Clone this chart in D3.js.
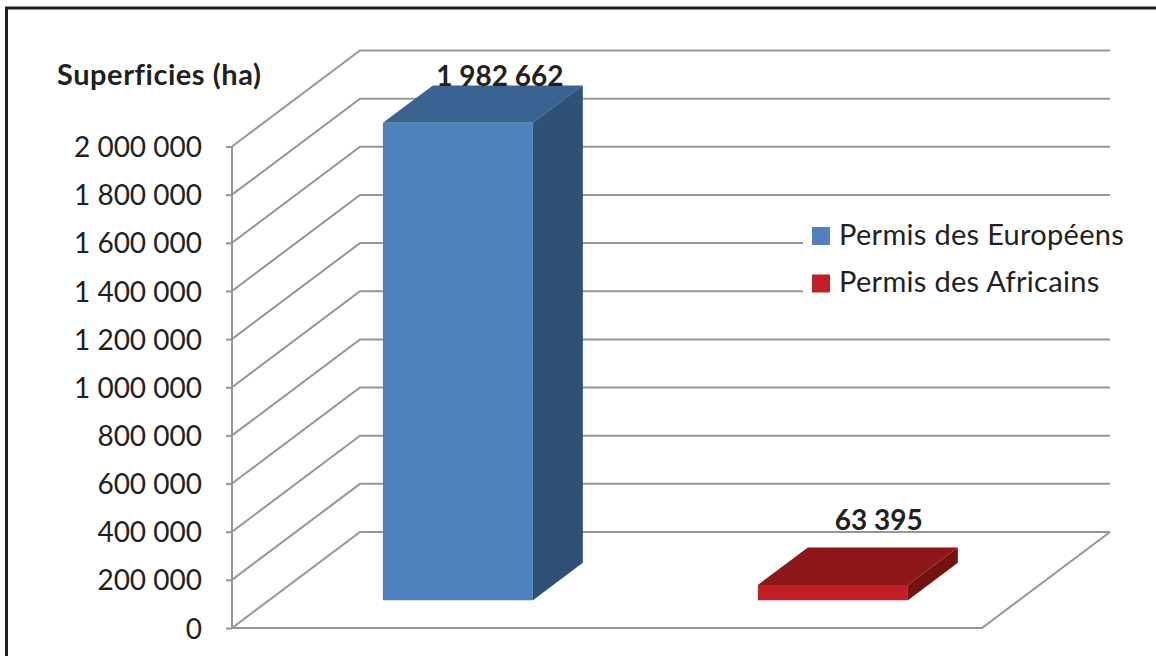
<!DOCTYPE html>
<html>
<head>
<meta charset="utf-8">
<script src="https://cdn.jsdelivr.net/npm/d3@7"></script>
<style>
html, body { margin: 0; padding: 0; background: #fff; }
svg { display: block; }
text { font-family: Lato, "Open Sans", sans-serif; fill: #231f20; }
</style>
</head>
<body>
<script>
const categories = ["Permis des Européens", "Permis des Africains"];
const values = [1982662, 63395];
const valueLabels = ["1 982 662", "63 395"];
const yTicks = [0, 200000, 400000, 600000, 800000, 1000000, 1200000, 1400000, 1600000, 1800000, 2000000];
const faceColors = ["#4f81bd", "#c01f26"];
const topColors = ["#3a6391", "#8d1719"];
const sideColors = ["#2e5175", "#741112"];

const width = 1156, height = 656;

const svg = d3.select("body").append("svg").attr("width", width).attr("height", height);

// plot area on the floor front edge, depth goes up and to the right
const x = d3.scaleBand().domain(categories).range([232, 982]);
const y = d3.scaleLinear().domain([0, 2000000]).range([628, 146.5]);
const depthX = d3.scaleLinear().domain([0, 1]).range([0, 128]);
const depthY = d3.scaleLinear().domain([0, 1]).range([0, -96]);

const barFront = 0.29, barBack = 0.68;
const barWidth = x.bandwidth() * 0.4;
const barNudge = 1.3;
const gridColor = "#969696";

function project(px, val, depth) {
    return [px + depthX(depth), y(val) + depthY(depth)];
}

function poly(g, pts, fill) {
    g.append("polygon").attr("points", pts.map(p => p.join(",")).join(" ")).attr("fill", fill);
}

// cadre
svg.append("rect").attr("x", 6.5).attr("y", 8).attr("width", 1200).attr("height", 700)
    .attr("fill", "none").attr("stroke", "#231f20").attr("stroke-width", 3);

// grille : mur de gauche et mur du fond
const grid = svg.append("g").attr("fill", "none").attr("stroke", gridColor).attr("stroke-width", 2);
yTicks.forEach(t => {
    const a = project(x.range()[0], t, 0);
    const b = project(x.range()[0], t, 1);
    const c = project(x.range()[1], t, 1);
    grid.append("polyline").attr("points", [a, b, c].map(p => p.join(",")).join(" "));
});

// sol
const floorA = project(x.range()[0], 0, 0);
const floorB = project(x.range()[1], 0, 0);
const floorC = project(x.range()[1], 0, 1);
grid.append("polyline").attr("points", [floorA, floorB, floorC].map(p => p.join(",")).join(" "));

// axe vertical
const axis = d3.axisLeft(y)
    .tickValues(yTicks)
    .tickSize(6)
    .tickPadding(24)
    .tickFormat(d => d3.format(",")(d).replace(/,/g, " "));
const axisG = svg.append("g").attr("transform", "translate(232,0)").call(axis);
axisG.selectAll("line, path").attr("stroke", gridColor).attr("stroke-width", 2);
axisG.selectAll("text").attr("font-size", 28).attr("dy", "0.36em").style("font-family", "Lato, 'Open Sans', sans-serif").attr("fill", "#231f20");
axisG.select(".domain").attr("d", `M0,${y(2000000)}V${y(0)}`);

// fond blanc de la légende, il coupe la grille
svg.append("rect").attr("x", 803).attr("y", 212).attr("width", 320).attr("height", 92).attr("fill", "#fff");

// barres 3D
const bars = svg.append("g");
categories.forEach((c, i) => {
    const left = x(c) + (x.bandwidth() - barWidth) / 2 + barNudge;
    const right = left + barWidth;
    const v = values[i];
    poly(bars, [project(left, v, barFront), project(left, v, barBack), project(right, v, barBack), project(right, v, barFront)], topColors[i]);
    poly(bars, [project(right, 0, barFront), project(right, v, barFront), project(right, v, barBack), project(right, 0, barBack)], sideColors[i]);
    poly(bars, [project(left, 0, barFront), project(left, v, barFront), project(right, v, barFront), project(right, 0, barFront)], faceColors[i]);
});

// étiquettes de valeur, placées à la main comme dans l'original
const labelShiftX = [-8, -4];
const labelShiftY = [1, -17];
categories.forEach((c, i) => {
    const left = x(c) + (x.bandwidth() - barWidth) / 2 + barNudge;
    const top = project(left + barWidth / 2, values[i], barBack);
    svg.append("text")
        .attr("x", top[0] + labelShiftX[i])
        .attr("y", top[1] + labelShiftY[i])
        .attr("text-anchor", "middle")
        .attr("font-size", 28)
        .attr("font-weight", 700)
        .text(valueLabels[i]);
});

// légende
const legend = svg.append("g");
categories.forEach((c, i) => {
    const ly = 235.5 + i * 47.5;
    legend.append("rect").attr("x", 812).attr("y", ly - 8.5).attr("width", 18).attr("height", 18).attr("fill", faceColors[i]);
    legend.append("text").attr("x", 839).attr("y", ly + 9).attr("font-size", 29).attr("letter-spacing", 0.3).text(c);
});

// titre de l'axe
svg.append("text").attr("x", 57).attr("y", 85).attr("font-size", 29).attr("font-weight", 700).attr("letter-spacing", 0.55).text("Superficies (ha)");
</script>
</body>
</html>
